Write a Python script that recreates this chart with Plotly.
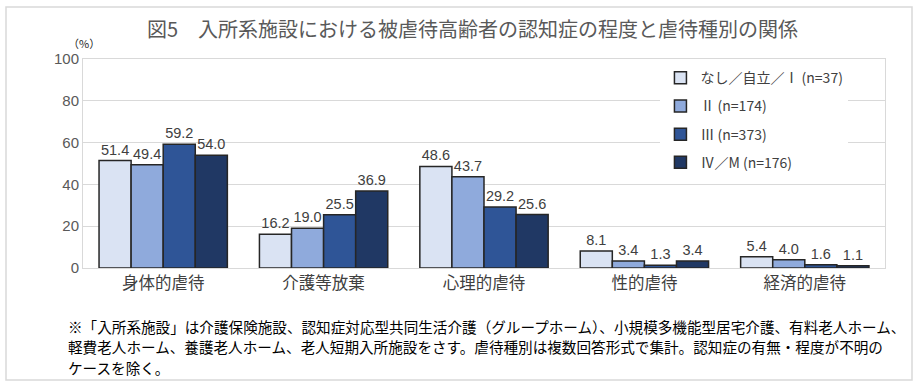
import plotly.graph_objects as go

categories = ["身体的虐待", "介護等放棄", "心理的虐待", "性的虐待", "経済的虐待"]
series_names = ["なし／自立／Ⅰ (n=37)", "Ⅱ (n=174)", "Ⅲ (n=373)", "Ⅳ／M (n=176)"]
s1 = [51.4, 16.2, 48.6, 8.1, 5.4]
s2 = [49.4, 19.0, 43.7, 3.4, 4.0]
s3 = [59.2, 25.5, 29.2, 1.3, 1.6]
s4 = [54.0, 36.9, 25.6, 3.4, 1.1]
y_ticks = [0, 20, 40, 60, 80, 100]
colors = ["#DAE3F3", "#8FAADC", "#2F5597", "#203864"]

title = "図5　入所系施設における被虐待高齢者の認知症の程度と虐待種別の関係"
notes = [
    "※「入所系施設」は介護保険施設、認知症対応型共同生活介護（グループホーム）、小規模多機能型居宅介護、有料老人ホーム、",
    "軽費老人ホーム、養護老人ホーム、老人短期入所施設をさす。虐待種別は複数回答形式で集計。認知症の有無・程度が不明の",
    "ケースを除く。",
]

FONT = "Noto Sans CJK JP"
W, H = 919, 389
L, R, T, B = 83, 34, 59, 121

fig = go.Figure()
for i, (name, vals) in enumerate(zip(series_names, [s1, s2, s3, s4])):
    fig.add_trace(go.Bar(
        x=categories, y=vals, name=name,
        marker=dict(color=colors[i], line=dict(color="#262626", width=1.5)),
        text=[f"{v:.1f}" for v in vals], textposition="outside",
        textfont=dict(family="Liberation Sans", size=14.5, color="#404040"),
        cliponaxis=False, constraintext="none",
        legendgroup=f"g{i}", hoverinfo="skip",
    ))

fig.update_layout(
    width=W, height=H,
    margin=dict(l=L, r=R, t=T, b=B),
    paper_bgcolor="white", plot_bgcolor="white",
    barmode="group", bargap=0.2, bargroupgap=0,
    font=dict(family=FONT, color="#595959"),
    showlegend=True, hovermode=False,
    legend=dict(
        x=0.72, y=0.985, xanchor="left", yanchor="top",
        bgcolor="white", tracegroupgap=7,
        font=dict(family=FONT, size=14, color="#404040"),
        itemwidth=30,
    ),
    yaxis=dict(
        range=[0, 100], tickvals=y_ticks, ticks="",
        tickfont=dict(family="Liberation Sans", size=15, color="#595959"),
        showgrid=True, gridcolor="#D9D9D9", gridwidth=1,
        showline=True, linecolor="#D9D9D9", mirror=True, zeroline=False,
    ),
    xaxis=dict(
        tickfont=dict(family=FONT, size=16.5, color="#404040"),
        showline=True, linecolor="#D9D9D9", mirror=True, ticks="",
    ),
)

def px_x(p):
    return (p - L) / (W - L - R)

def px_y(p):
    return (H - B - p) / (H - T - B)

fig.add_annotation(text=title, x=px_x(472), y=px_y(28), xref="paper", yref="paper",
                   showarrow=False, xanchor="center", yanchor="middle",
                   font=dict(family=FONT, size=20, color="#595959"))
fig.add_annotation(text="（%）", x=px_x(84), y=px_y(43), xref="paper", yref="paper",
                   showarrow=False, xanchor="center", yanchor="middle",
                   font=dict(family=FONT, size=11, color="#262626"))
for j, line in enumerate(notes):
    fig.add_annotation(text=line, x=px_x(66), y=px_y(326 + j * 20.5), xref="paper", yref="paper",
                       showarrow=False, xanchor="left", yanchor="middle",
                       font=dict(family=FONT, size=14.6, color="#000000"))

fig.add_shape(type="rect", xref="paper", yref="paper",
              x0=px_x(6), x1=px_x(912), y0=px_y(380), y1=px_y(7),
              line=dict(color="#D9D9D9", width=1.5), layer="below")

fig.write_html("out.html", config={"displayModeBar": False},
               post_script="document.body.style.margin='0';")
